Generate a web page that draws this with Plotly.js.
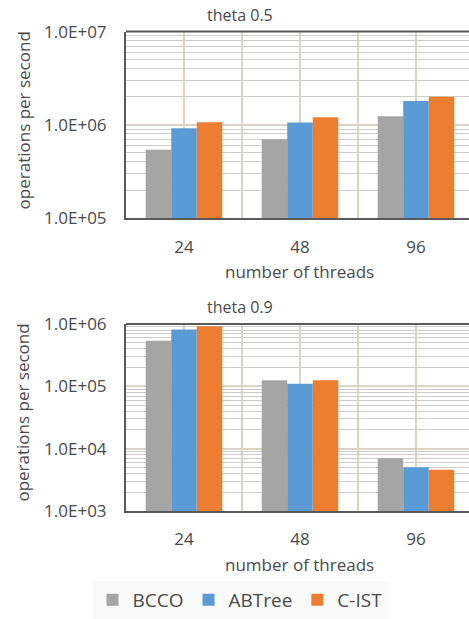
<!DOCTYPE html>
<html>
<head>
<meta charset="utf-8">
<script src="https://cdn.plot.ly/plotly-3.0.1.min.js"></script>
<style>html,body{margin:0;padding:0;background:#fff;overflow:hidden}</style>
</head>
<body>
<div id="chart" style="width:469px;height:619px"></div>
<script>
// ---- data ----
const threads = ['24', '48', '96'];
const seriesNames = ['BCCO', 'ABTree', 'C-IST'];
const seriesColors = ['#a5a5a5', '#5b9bd5', '#ed7d31'];

// theta 0.5
const theta05_BCCO   = [5.4e5, 7.0e5, 1.24e6];
const theta05_ABTree = [9.2e5, 1.06e6, 1.80e6];
const theta05_CIST   = [1.07e6, 1.21e6, 2.0e6];

// theta 0.9
const theta09_BCCO   = [5.4e5, 1.25e5, 7.0e3];
const theta09_ABTree = [8.2e5, 1.10e5, 5.05e3];
const theta09_CIST   = [9.2e5, 1.25e5, 4.6e3];

const topTicks = [1e5, 1e6, 1e7];
const topTickText = ['1.0E+05', '1.0E+06', '1.0E+07'];
const botTicks = [1e3, 1e4, 1e5, 1e6];
const botTickText = ['1.0E+03', '1.0E+04', '1.0E+05', '1.0E+06'];

const panelTitles = ['theta 0.5', 'theta 0.9'];
const xTitle = 'number of threads';
const yTitle = 'operations per second';

// ---- build ----
const idx = threads.map((_, i) => i);
const topSets = [theta05_BCCO, theta05_ABTree, theta05_CIST];
const botSets = [theta09_BCCO, theta09_ABTree, theta09_CIST];

const traces = [];
topSets.forEach((vals, k) => traces.push({
  type: 'bar', x: idx, y: vals, name: seriesNames[k], legendgroup: seriesNames[k],
  marker: {color: seriesColors[k], line: {width: 0}}, xaxis: 'x', yaxis: 'y', hoverinfo: 'y+name'
}));
botSets.forEach((vals, k) => traces.push({
  type: 'bar', x: idx, y: vals, name: seriesNames[k], legendgroup: seriesNames[k], showlegend: false,
  marker: {color: seriesColors[k], line: {width: 0}}, xaxis: 'x2', yaxis: 'y2', hoverinfo: 'y+name'
}));

const W = 469, H = 619;
const FONT = 'Open Sans, sans-serif';
const TXT = '#4a4a4a';
const BEIGE = '#d9d4c6';
const MINOR = '#cdcdcd';
const AXIS = '#595959';
const xDom = [126 / W, 1];
const y1Dom = [1 - 221 / H, 1 - 32 / H];
const y2Dom = [1 - 517.7 / H, 1 - 328.3 / H];

function xAxis(anchor) {
  return {
    domain: xDom, anchor: anchor, type: 'linear', range: [-0.5, 2.457],
    tickmode: 'array', tickvals: idx, ticktext: threads, ticks: '',
    ticklabelstandoff: 12,
    showgrid: true, gridcolor: BEIGE, gridwidth: 2, zeroline: false,
    minor: {tick0: 0.5, dtick: 1, showgrid: true, gridcolor: BEIGE, gridwidth: 2, ticks: ''},
    showline: true, linecolor: AXIS, linewidth: 2,
    tickfont: {family: FONT, size: 17, color: TXT}, fixedrange: true
  };
}
function yAxis(anchor, dom, rng, tv, tt) {
  return {
    domain: dom, anchor: anchor, type: 'log', range: rng,
    tickmode: 'array', tickvals: tv, ticktext: tt, ticks: '', ticklabelstandoff: 14,
    showgrid: true, gridcolor: BEIGE, gridwidth: 2, zeroline: false,
    minor: {dtick: 'D1', showgrid: true, gridcolor: MINOR, gridwidth: 1, ticks: ''},
    showline: true, linecolor: AXIS, linewidth: 2,
    tickfont: {family: FONT, size: 17, color: TXT}, fixedrange: true
  };
}

const ann = (text, x, y, size, angle) => ({
  text: text, xref: 'paper', yref: 'paper', x: x / W, y: 1 - y / H,
  xanchor: 'center', yanchor: 'middle', showarrow: false, textangle: angle || 0,
  font: {family: FONT, size: size, color: TXT}
});

const layout = {
  width: W, height: H,
  margin: {l: 0, r: 0, t: 0, b: 0},
  paper_bgcolor: '#ffffff', plot_bgcolor: '#ffffff',
  barmode: 'group', bargap: 0.34, bargroupgap: 0,
  font: {family: FONT, color: TXT},
  xaxis: xAxis('y'),
  yaxis: yAxis('x', y1Dom, [5, 7], topTicks, topTickText),
  xaxis2: xAxis('y2'),
  yaxis2: yAxis('x2', y2Dom, [3, 6], botTicks, botTickText),
  annotations: [
    ann(panelTitles[0], 239.5, 15, 16),
    ann(panelTitles[1], 239.5, 311, 16),
    ann(xTitle, 299, 275, 17),
    ann(xTitle, 299, 572, 17),
    ann(yTitle, 23, 122, 17, -90),
    ann(yTitle, 23, 418, 17, -90)
  ],
  shapes: [
    {type: 'line', xref: 'x domain', yref: 'y domain', x0: 0, x1: 1, y0: 1, y1: 1, line: {color: AXIS, width: 2}},
    {type: 'line', xref: 'x2 domain', yref: 'y2 domain', x0: 0, x1: 1, y0: 1, y1: 1, line: {color: AXIS, width: 2}}
  ],
  legend: {
    orientation: 'h', x: 240 / W, xanchor: 'center', y: 1 - 608 / H, yanchor: 'middle',
    bgcolor: '#fafafa', font: {family: FONT, size: 19, color: TXT},
    itemclick: false, itemdoubleclick: false, tracegroupgap: 0
  },
  showlegend: true
};

Plotly.newPlot('chart', traces, layout, {displayModeBar: false, staticPlot: true});
</script>
</body>
</html>
